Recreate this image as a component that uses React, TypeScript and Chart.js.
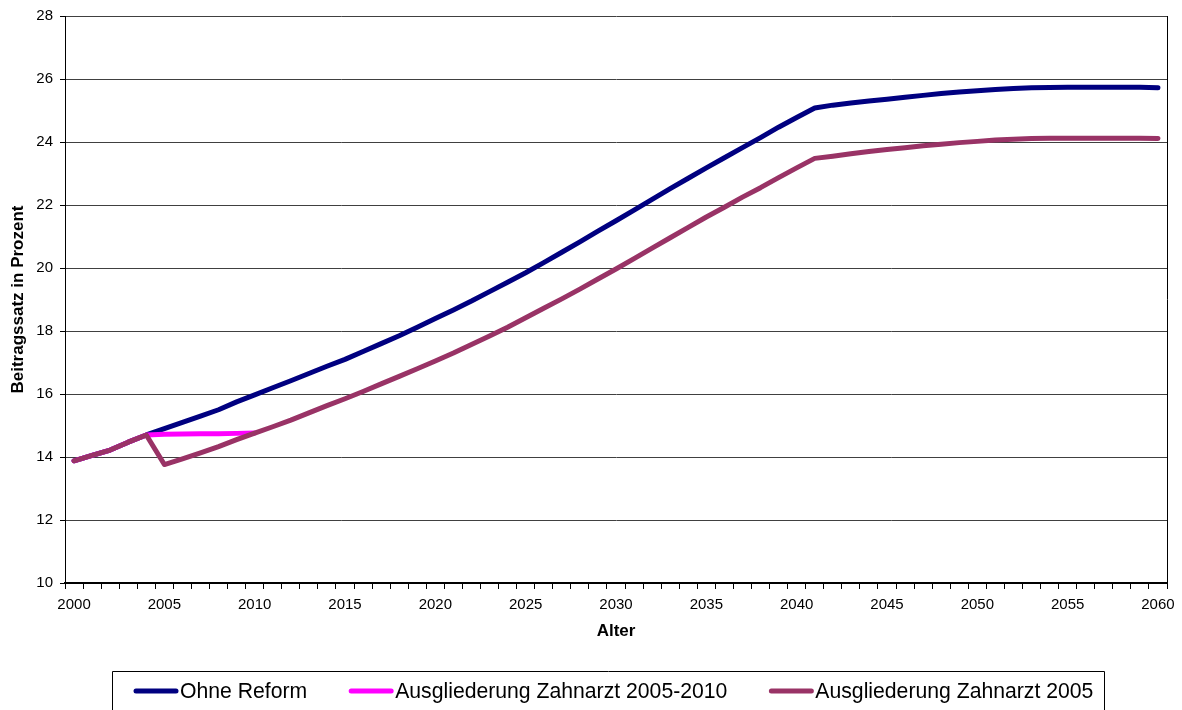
import React, { useEffect, useRef } from "react";
import { Chart, registerables } from "chart.js";

Chart.register(...registerables);

const years = [
  "2000","2001","2002","2003","2004","2005","2006","2007","2008","2009",
  "2010","2011","2012","2013","2014","2015","2016","2017","2018","2019",
  "2020","2021","2022","2023","2024","2025","2026","2027","2028","2029",
  "2030","2031","2032","2033","2034","2035","2036","2037","2038","2039",
  "2040","2041","2042","2043","2044","2045","2046","2047","2048","2049",
  "2050","2051","2052","2053","2054","2055","2056","2057","2058","2059",
  "2060",
];

const ohneReform = [
  13.88, 14.05, 14.22, 14.47, 14.7, 14.9, 15.1, 15.3, 15.5, 15.75,
  15.97, 16.2, 16.42, 16.65, 16.88, 17.1, 17.35, 17.6, 17.85, 18.12,
  18.4, 18.67, 18.95, 19.25, 19.55, 19.85, 20.17, 20.5, 20.83, 21.17,
  21.5, 21.84, 22.18, 22.52, 22.85, 23.18, 23.5, 23.82, 24.14, 24.47,
  24.78, 25.08, 25.17, 25.24, 25.3, 25.36, 25.42, 25.48, 25.54, 25.59,
  25.63, 25.67, 25.7, 25.72, 25.73, 25.74, 25.74, 25.74, 25.74, 25.74,
  25.72,
];

const zahnarzt2005bis2010 = [
  13.88, 14.05, 14.22, 14.47, 14.7, 14.72, 14.73, 14.74, 14.74, 14.75,
  14.76,
];

const zahnarzt2005 = [
  13.88, 14.05, 14.22, 14.47, 14.7, 13.76, 13.94, 14.13, 14.33, 14.55,
  14.76, 14.96, 15.17, 15.4, 15.63, 15.85, 16.08, 16.32, 16.56, 16.8,
  17.05, 17.3, 17.57, 17.84, 18.12, 18.42, 18.72, 19.02, 19.33, 19.65,
  19.97, 20.3, 20.63, 20.96, 21.29, 21.62, 21.93, 22.25, 22.55, 22.87,
  23.18, 23.48, 23.55, 23.63, 23.7, 23.76, 23.82, 23.88, 23.93, 23.98,
  24.02, 24.06, 24.09, 24.11, 24.12, 24.12, 24.12, 24.12, 24.12, 24.12,
  24.11,
];

const seriesNames = [
  "Ohne Reform",
  "Ausgliederung Zahnarzt 2005-2010",
  "Ausgliederung Zahnarzt 2005",
];
const seriesColors = ["#000080", "#FF00FF", "#993366"];

const FONT = "'Liberation Sans', Arial, sans-serif";

const framePlugin = {
  id: "frameAndLegend",
  afterDraw(chart: any) {
    const { ctx, chartArea } = chart;
    ctx.save();
    // right border of plot
    ctx.strokeStyle = "#000";
    ctx.lineWidth = 1;
    ctx.beginPath();
    ctx.moveTo(Math.round(chartArea.right) + 0.5, chartArea.top);
    ctx.lineTo(Math.round(chartArea.right) + 0.5, chartArea.bottom);
    ctx.stroke();

    // legend box
    ctx.beginPath();
    ctx.rect(112.5, 671.5, 992, 60);
    ctx.stroke();

    ctx.font = "21.2px " + FONT;
    ctx.textBaseline = "middle";
    ctx.textAlign = "left";
    let x = 134;
    const y = 691;
    chart.data.datasets.forEach((ds: any) => {
      ctx.strokeStyle = ds.borderColor;
      ctx.lineWidth = 5;
      ctx.lineCap = "round";
      ctx.beginPath();
      ctx.moveTo(x + 2, y);
      ctx.lineTo(x + 42, y);
      ctx.stroke();
      ctx.fillStyle = "#000";
      ctx.fillText(ds.label, x + 46, y + 1);
      x += 46 + ctx.measureText(ds.label).width + 42;
    });
    ctx.restore();
  },
};

export default function App() {
  const ref = useRef<HTMLCanvasElement>(null);

  useEffect(() => {
    if (!ref.current) return;
    const common = {
      borderWidth: 5,
      pointRadius: 0,
      pointHoverRadius: 0,
      tension: 0,
      fill: false,
      borderCapStyle: "round",
      borderJoinStyle: "round",
      spanGaps: false,
    };
    const chart = new Chart(ref.current, {
      type: "line",
      data: {
        labels: years,
        datasets: [
          { ...common, label: seriesNames[0], data: ohneReform, borderColor: seriesColors[0], backgroundColor: seriesColors[0], order: 2 },
          { ...common, label: seriesNames[1], data: zahnarzt2005bis2010, borderColor: seriesColors[1], backgroundColor: seriesColors[1], order: 1 },
          { ...common, label: seriesNames[2], data: zahnarzt2005, borderColor: seriesColors[2], backgroundColor: seriesColors[2], order: 0 },
        ] as any,
      },
      options: {
        animation: false,
        responsive: false,
        devicePixelRatio: 1,
        layout: { padding: { left: 0, right: 15, top: 15, bottom: 0 } },
        plugins: {
          legend: { display: false },
          tooltip: { enabled: false },
        },
        scales: {
          x: {
            type: "category",
            offset: true,
            afterFit: (s: any) => { s.height = 127; },
            grid: {
              display: true,
              offset: true,
              drawOnChartArea: false,
              drawTicks: true,
              tickLength: 6,
              tickColor: "#000",
              color: "#000",
            },
            border: { display: true, color: "#000", width: 2 },
            ticks: {
              autoSkip: false,
              maxRotation: 0,
              padding: 7,
              color: "#000",
              font: { family: FONT, size: 15 },
              callback: (_v: any, i: number) => (Number(years[i]) % 5 === 0 ? years[i] : ""),
            },
            title: {
              display: true,
              text: "Alter",
              color: "#000",
              font: { family: FONT, size: 17, weight: "bold" },
              padding: { top: 0, bottom: 68 },
            },
          },
          y: {
            min: 10,
            max: 28,
            afterFit: (s: any) => { s.width = 65; },
            grid: {
              color: "#404040",
              lineWidth: 1,
              drawTicks: true,
              tickLength: 5,
              tickColor: "#000",
            },
            border: { display: true, color: "#000", width: 1 },
            ticks: {
              stepSize: 2,
              padding: 7,
              color: "#000",
              font: { family: FONT, size: 15 },
            },
            title: {
              display: true,
              text: "Beitragssatz in Prozent",
              color: "#000",
              font: { family: FONT, size: 17, weight: "bold" },
              padding: { top: 8, bottom: 0 },
            },
          },
        },
      } as any,
      plugins: [framePlugin],
    });
    return () => chart.destroy();
  }, []);

  return (
    <div style={{ position: "absolute", left: 0, top: 0, width: 1182, height: 710, overflow: "hidden", background: "#fff" }}>
      <canvas ref={ref} width={1182} height={710} style={{ display: "block", width: 1182, height: 710 }} />
    </div>
  );
}
